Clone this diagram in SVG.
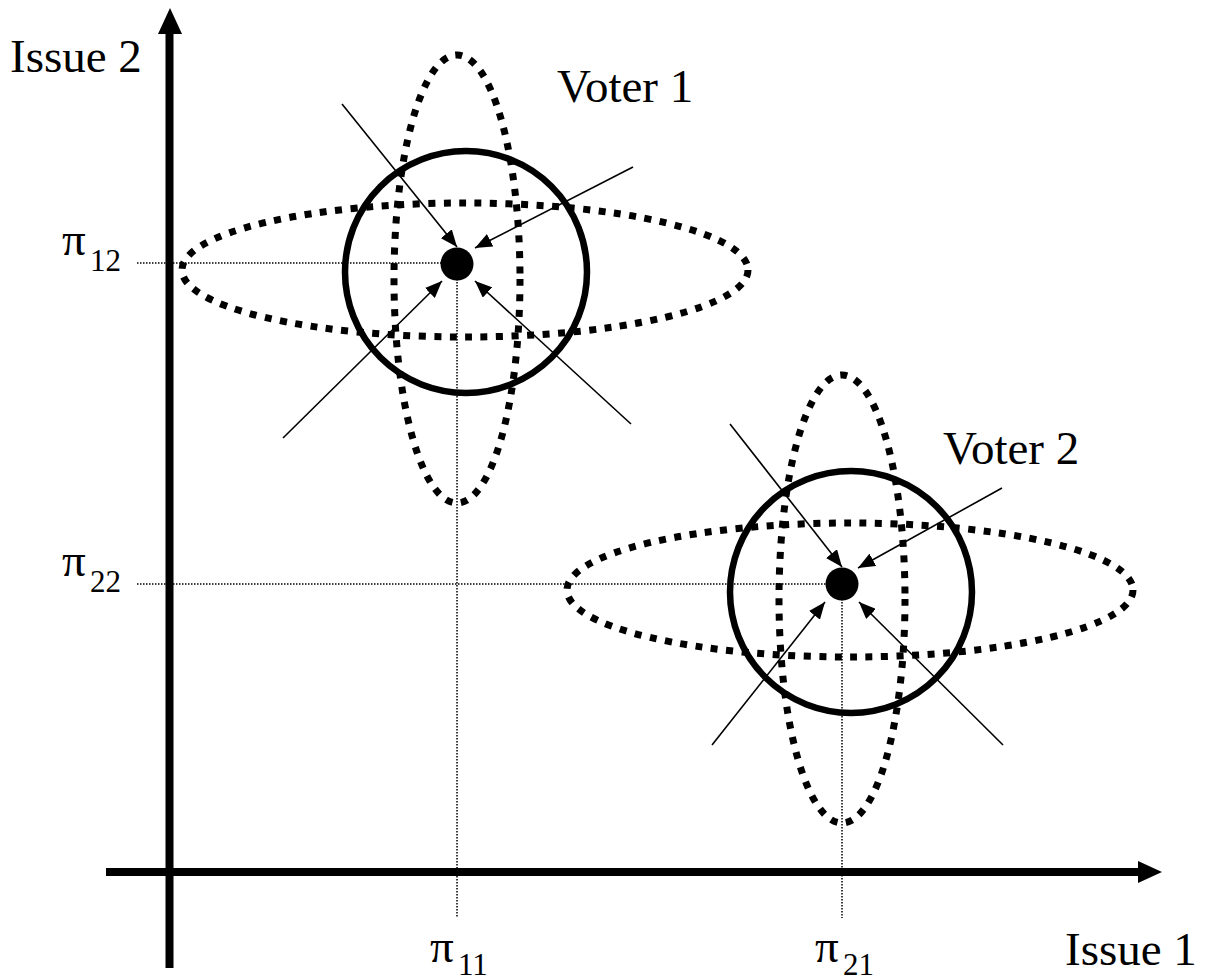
<svg xmlns="http://www.w3.org/2000/svg" width="1210" height="980" viewBox="0 0 1210 980">
<style>
.lbl{font-family:"Liberation Serif","Times New Roman",serif;font-size:47px;fill:#000}
.sub{font-family:"Liberation Serif","Times New Roman",serif;font-size:31px;fill:#000}
.guide{stroke:#000;stroke-width:1.5;stroke-dasharray:1.5 1.5;fill:none}
.axis{stroke:#000;stroke-width:8;fill:none}
.dotted{stroke:#000;stroke-width:7;stroke-dasharray:7 8.5;fill:none}
.circ{stroke:#000;stroke-width:6.5;fill:none}
.arr{stroke:#000;stroke-width:1.6;fill:none;marker-end:url(#ah)}
</style>
<defs>
<marker id="ah" viewBox="0 0 17 14" refX="17" refY="7" markerWidth="17" markerHeight="14" markerUnits="userSpaceOnUse" orient="auto">
<path d="M0,0 L17,7 L0,14 z" fill="#000"/>
</marker>
</defs>
<rect width="1210" height="980" fill="#fff"/>
<g id="guides">
<line class="guide" x1="137" y1="263" x2="457" y2="263"/>
<line class="guide" x1="137" y1="584" x2="842" y2="584"/>
<line class="guide" x1="457" y1="264" x2="457" y2="918"/>
<line class="guide" x1="842" y1="584" x2="842" y2="918"/>
</g>
<g id="axes">
<line class="axis" x1="169.5" y1="968" x2="169.5" y2="30"/>
<polygon points="170,8 158,34 182,34" fill="#000"/>
<line class="axis" x1="106" y1="872" x2="1140" y2="872"/>
<polygon points="1162,872 1138,861 1138,883" fill="#000"/>
</g>
<g id="voter1">
<ellipse class="dotted" cx="465" cy="270" rx="283" ry="67"/>
<ellipse class="dotted" cx="457" cy="279" rx="63" ry="224"/>
<circle class="circ" cx="466" cy="272" r="121"/>
<circle cx="457" cy="264" r="16.5" fill="#000"/>
</g>
<g id="voter2">
<ellipse class="dotted" cx="850" cy="590" rx="283" ry="67"/>
<ellipse class="dotted" cx="842" cy="599" rx="63" ry="224"/>
<circle class="circ" cx="851" cy="592" r="121"/>
<circle cx="842" cy="584" r="16.5" fill="#000"/>
</g>
<g id="connectors">
<line class="arr" x1="342" y1="104" x2="457" y2="247"/>
<line class="arr" x1="633" y1="167" x2="475" y2="248"/>
<line class="arr" x1="283" y1="438" x2="442" y2="281"/>
<line class="arr" x1="631" y1="424" x2="475" y2="281"/>
<line class="arr" x1="730" y1="424" x2="842" y2="567"/>
<line class="arr" x1="1002" y1="488" x2="858" y2="568"/>
<line class="arr" x1="712" y1="745" x2="825" y2="602"/>
<line class="arr" x1="1003" y1="745" x2="859" y2="602"/>
</g>
<g id="labels">
<text class="lbl" x="10" y="72">Issue 2</text>
<text class="lbl" x="1065" y="965">Issue 1</text>
<text class="lbl" x="557" y="102">Voter 1</text>
<text class="lbl" x="943" y="464">Voter 2</text>
<text class="lbl" x="62" y="255">π</text><text class="sub" x="90" y="271">12</text>
<text class="lbl" x="62" y="576">π</text><text class="sub" x="90" y="592">22</text>
<text class="lbl" x="430" y="962">π</text><text class="sub" x="458" y="975">11</text>
<text class="lbl" x="815" y="962">π</text><text class="sub" x="843" y="975">21</text>
</g>
</svg>
